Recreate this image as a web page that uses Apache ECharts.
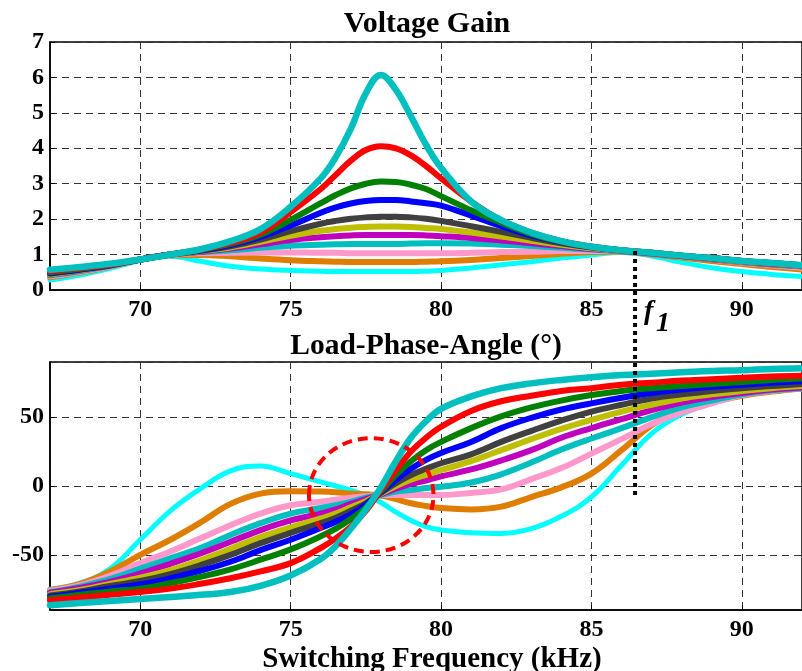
<!DOCTYPE html>
<html>
<head>
<meta charset="utf-8">
<script src="https://cdn.jsdelivr.net/npm/echarts@6/dist/echarts.min.js"></script>
<style>
  html, body { margin: 0; background: #fff; }
  #chart { width: 802px; height: 671px; }
</style>
</head>
<body>
<div id="chart"></div>
<script>
// ===== data =====
const freq = [67, 68, 69, 70, 71, 72, 73, 74, 75, 76, 76.5, 77, 77.5, 78, 78.5, 79, 79.5, 80, 81, 82, 83, 84, 85, 86, 87, 88, 89, 90, 91, 92];

// voltage gain
const gainTeal    = [0.57, 0.65, 0.74, 0.86, 1.0, 1.15, 1.38, 1.72, 2.35, 3.15, 3.75, 4.55, 5.55, 6.07, 5.65, 4.9, 4.1, 3.45, 2.5, 1.97, 1.62, 1.38, 1.22, 1.12, 1.05, 0.97, 0.9, 0.82, 0.76, 0.7];
const gainRed     = [0.53, 0.62, 0.72, 0.86, 1.0, 1.14, 1.33, 1.62, 2.2, 2.85, 3.25, 3.65, 3.95, 4.06, 4.0, 3.8, 3.5, 3.15, 2.5, 1.97, 1.62, 1.38, 1.23, 1.12, 1.05, 0.97, 0.9, 0.82, 0.75, 0.69];
const gainGreen   = [0.5, 0.6, 0.71, 0.86, 1.0, 1.13, 1.3, 1.56, 1.98, 2.45, 2.68, 2.87, 3.0, 3.06, 3.05, 2.97, 2.85, 2.65, 2.25, 1.9, 1.58, 1.36, 1.22, 1.12, 1.05, 0.97, 0.9, 0.82, 0.76, 0.7];
const gainBlue    = [0.48, 0.58, 0.7, 0.86, 1.0, 1.12, 1.27, 1.5, 1.82, 2.18, 2.33, 2.44, 2.51, 2.54, 2.54, 2.5, 2.45, 2.38, 2.1, 1.8, 1.54, 1.35, 1.21, 1.12, 1.05, 0.97, 0.9, 0.82, 0.76, 0.7];
const gainGray    = [0.46, 0.57, 0.7, 0.86, 1.0, 1.1, 1.23, 1.42, 1.66, 1.87, 1.95, 2.01, 2.05, 2.07, 2.07, 2.05, 2.01, 1.95, 1.8, 1.64, 1.47, 1.32, 1.2, 1.11, 1.04, 0.96, 0.89, 0.81, 0.75, 0.69];
const gainOlive   = [0.44, 0.56, 0.69, 0.86, 1.0, 1.09, 1.2, 1.36, 1.53, 1.67, 1.72, 1.76, 1.78, 1.79, 1.79, 1.78, 1.75, 1.72, 1.62, 1.51, 1.39, 1.28, 1.18, 1.1, 1.04, 0.96, 0.88, 0.8, 0.74, 0.68];
const gainMagenta = [0.43, 0.55, 0.69, 0.86, 1.0, 1.08, 1.17, 1.29, 1.41, 1.49, 1.52, 1.54, 1.55, 1.55, 1.55, 1.55, 1.54, 1.52, 1.47, 1.4, 1.32, 1.24, 1.16, 1.1, 1.03, 0.95, 0.87, 0.79, 0.73, 0.67];
const gainTeal2   = [0.41, 0.53, 0.68, 0.86, 1.0, 1.07, 1.12, 1.19, 1.25, 1.28, 1.29, 1.3, 1.3, 1.3, 1.3, 1.31, 1.32, 1.32, 1.31, 1.28, 1.24, 1.19, 1.14, 1.09, 1.03, 0.95, 0.87, 0.79, 0.72, 0.66];
const gainPink    = [0.39, 0.51, 0.67, 0.86, 0.99, 1.04, 1.05, 1.06, 1.06, 1.05, 1.05, 1.04, 1.04, 1.04, 1.04, 1.04, 1.04, 1.04, 1.05, 1.07, 1.08, 1.1, 1.1, 1.08, 1.02, 0.94, 0.86, 0.77, 0.7, 0.63];
const gainOrange  = [0.36, 0.49, 0.66, 0.86, 0.98, 0.99, 0.95, 0.89, 0.84, 0.81, 0.8, 0.79, 0.79, 0.79, 0.79, 0.79, 0.8, 0.81, 0.85, 0.9, 0.96, 1.02, 1.07, 1.08, 1.01, 0.92, 0.82, 0.73, 0.65, 0.58];
const gainCyan    = [0.28, 0.42, 0.61, 0.83, 0.95, 0.81, 0.67, 0.59, 0.55, 0.53, 0.52, 0.52, 0.52, 0.52, 0.52, 0.52, 0.53, 0.55, 0.62, 0.71, 0.8, 0.9, 0.99, 1.06, 0.96, 0.78, 0.63, 0.52, 0.44, 0.38];

// load phase angle (deg)
const phaseTeal    = [-86.5, -85, -83.5, -82, -80.5, -79, -77, -72.5, -65, -53, -43.5, -31, -17, -1, 18, 35, 47, 56, 65, 71, 74.5, 77, 79, 80.5, 81.5, 82.5, 83.5, 84, 85, 85.5];
const phaseRed     = [-83, -81, -79, -77, -74.5, -71, -67, -62, -56, -45, -38, -29.5, -18, -3, 11.5, 25, 35, 43, 54.5, 61.5, 65.5, 69, 71, 73.5, 75, 76.5, 77.5, 78.5, 79.5, 80];
const phaseGreen   = [-81.5, -79, -76.5, -74.5, -70.5, -66, -60.5, -53.5, -46, -36.5, -31, -24, -15.5, -4, 8, 18, 26, 32, 42, 50.5, 57, 62, 66, 69, 71, 72.5, 74, 75.5, 77, 78];
const phaseBlue    = [-80.5, -77.5, -74.5, -71.5, -67, -61.5, -55, -46.5, -39, -30.5, -26, -20.5, -13.5, -4.5, 4.5, 12.5, 19, 24, 32, 42, 49.5, 55.5, 60, 64, 67.5, 70, 72, 73.5, 75, 76];
const phaseGray    = [-79.5, -76.5, -72.5, -69, -64, -57.5, -50, -41.5, -34, -27, -23, -18, -12.5, -5, 2, 8, 12.5, 16.5, 23, 32, 40, 47.5, 54, 59, 63.5, 66.5, 69, 71, 72.5, 74];
const phaseOlive   = [-78.5, -75.5, -71, -66.5, -61, -54, -45.5, -37, -30, -23.5, -20, -15.5, -11, -5.5, 0, 4.5, 8, 11.5, 18, 26, 34, 41.5, 48, 54, 59, 63.5, 66.5, 69, 71, 72.5];
const phaseMagenta = [-77.5, -74, -69.5, -63.5, -56.5, -49, -40.5, -32, -25, -20, -17, -13, -9.5, -6, -2, 1.5, 4, 7, 12, 18.5, 26, 35, 42, 48.5, 55, 60.5, 64.5, 67.5, 70, 71.5];
const phaseTeal2   = [-77, -73, -67.5, -60, -52.5, -45, -35.5, -27, -20, -16, -14, -11.5, -8.5, -6.5, -4, -3, -1.5, -0.5, 2.5, 8.5, 17, 26.5, 34.5, 42, 50, 57, 62, 66.5, 69.5, 71];
const phasePink    = [-76, -72, -65, -56, -47.5, -38, -28.5, -20, -14, -11.5, -10, -8.5, -7.5, -6.5, -6.5, -6.5, -6.5, -6.5, -5, -2.5, 5, 13, 23.5, 34, 45, 53.5, 60, 66, 69, 71];
const phaseOrange  = [-75.5, -71, -62, -50, -39, -26.5, -13, -5.5, -3.8, -4, -4.5, -5.5, -6, -7, -9.5, -12.5, -14.5, -16, -17, -15, -8, -1, 9, 26, 44, 56, 61, 65.5, 68.5, 71];
const phaseCyan    = [-75, -70.5, -60, -39, -18, -2, 11, 14.5, 9, 3, 0, -3, -7, -12, -19, -25, -29.5, -32, -34, -34.5, -31, -22, -8, 15, 38, 52, 60, 66, 69.5, 72];

// annotations: dashed circle [f, deg, rx kHz, ry deg] and the f1 marker
const circleMark = [77.68, -6.55, 2.07, 41.3];
const f1Freq = 86.45;
const f1GainTop = 1.1;
const f1PhaseBottom = -8;

// ===== chart =====
const FONT = '"Liberation Serif", "Times New Roman", serif';

// drawn first -> last (last on top)
const curves = [
  { color: '#00FFFF', width: 5,   gain: gainCyan,    phase: phaseCyan },
  { color: '#DE7D00', width: 6,   gain: gainOrange,  phase: phaseOrange },
  { color: '#FF99CC', width: 6,   gain: gainPink,    phase: phasePink },
  { color: '#00BFBF', width: 6,   gain: gainTeal2,   phase: phaseTeal2 },
  { color: '#BF00BF', width: 6,   gain: gainMagenta, phase: phaseMagenta },
  { color: '#BFBF00', width: 6,   gain: gainOlive,   phase: phaseOlive },
  { color: '#404040', width: 6,   gain: gainGray,    phase: phaseGray },
  { color: '#0000FF', width: 6,   gain: gainBlue,    phase: phaseBlue },
  { color: '#008000', width: 6,   gain: gainGreen,   phase: phaseGreen },
  { color: '#FF0000', width: 6,   gain: gainRed,     phase: phaseRed },
  { color: '#00BFBF', width: 6.5, gain: gainTeal,    phase: phaseTeal }
];

const pairs = ys => freq.map((f, i) => [f, ys[i]]);

function lineSeries(c, ys, idx){
  return {
    type: 'line', xAxisIndex: idx, yAxisIndex: idx,
    data: pairs(ys), showSymbol: false, smooth: 0.4,
    lineStyle: { color: c.color, width: c.width, cap: 'round', join: 'round' },
    silent: true
  };
}

const gridDash = { color: '#333', width: 1, type: [7, 5] };
const labelStyle = { color: '#000', fontFamily: FONT, fontWeight: 'bold', fontSize: 24 };
const titleStyle = size => ({ fontFamily: FONT, fontWeight: 'bold', fontSize: size, color: '#000' });

function xAxisCfg(gridIndex){
  return {
    type: 'value', gridIndex, min: 67, max: 92, splitNumber: 5, minInterval: 5, maxInterval: 5,
    axisLine: { show: true, onZero: false, lineStyle: { color: '#000', width: 1.5 } },
    axisTick: { show: true, inside: true, length: 5, lineStyle: { color: '#000' } },
    axisLabel: Object.assign({ margin: 8, showMinLabel: false, showMaxLabel: false }, labelStyle),
    splitLine: { show: true, lineStyle: gridDash }
  };
}

const chart = echarts.init(document.getElementById('chart'), null, { renderer: 'canvas' });

const option = {
  animation: false,
  backgroundColor: '#fff',
  title: [
    { text: 'Voltage Gain', left: 422, top: 4, textAlign: 'center', textStyle: titleStyle(30) },
    { text: 'Load-Phase-Angle (°)', left: 421, top: 326, textAlign: 'center', textStyle: titleStyle(29.5) },
    { text: 'Switching Frequency (kHz)', left: 427, top: 640, textAlign: 'center', textStyle: titleStyle(29) }
  ],
  grid: [
    { left: 50, right: -3, top: 42, height: 248, show: true, borderColor: '#000', borderWidth: 1.5 },
    { left: 50, right: -3, top: 362, height: 248, show: true, borderColor: '#000', borderWidth: 1.5 }
  ],
  xAxis: [xAxisCfg(0), xAxisCfg(1)],
  yAxis: [
    {
      type: 'value', gridIndex: 0, min: 0, max: 7, interval: 1,
      axisLine: { show: true, lineStyle: { color: '#000', width: 1.5 } },
      axisTick: { show: true, inside: true, length: 5, lineStyle: { color: '#000' } },
      axisLabel: Object.assign({ margin: 6 }, labelStyle),
      splitLine: { show: true, lineStyle: gridDash }
    },
    {
      type: 'value', gridIndex: 1, min: -90, max: 90, splitNumber: 3, minInterval: 50, maxInterval: 50,
      axisLine: { show: true, lineStyle: { color: '#000', width: 1.5 } },
      axisTick: { show: true, inside: true, length: 5, lineStyle: { color: '#000' } },
      axisLabel: Object.assign({ margin: 6, showMinLabel: false, showMaxLabel: false }, labelStyle),
      splitLine: { show: true, lineStyle: gridDash }
    }
  ],
  series: [
    ...curves.map(c => lineSeries(c, c.gain, 0)),
    ...curves.map(c => lineSeries(c, c.phase, 1)),
    {
      type: 'custom', xAxisIndex: 1, yAxisIndex: 1, data: [circleMark], silent: true, z: 10,
      renderItem: (params, api) => {
        const c = api.coord([api.value(0), api.value(1)]);
        const s = api.size([api.value(2), api.value(3)]);
        return {
          type: 'ellipse',
          shape: { cx: c[0], cy: c[1], rx: s[0], ry: s[1] },
          style: { fill: 'none', stroke: '#FF0000', lineWidth: 4, lineDash: [10, 6] }
        };
      }
    }
  ]
};

chart.setOption(option);

// f1 marker across both panels
const pTop = chart.convertToPixel({ xAxisIndex: 0, yAxisIndex: 0 }, [f1Freq, f1GainTop]);
const pBot = chart.convertToPixel({ xAxisIndex: 1, yAxisIndex: 1 }, [f1Freq, f1PhaseBottom]);
chart.setOption({
  graphic: [
    { type: 'line', z: 100, shape: { x1: pTop[0], y1: pTop[1], x2: pBot[0], y2: pBot[1] },
      style: { stroke: '#000', lineWidth: 4, lineDash: [4, 4] } },
    { type: 'text', z: 100, x: pTop[0] + 9, y: 326,
      style: { text: 'f', font: 'italic bold 28px ' + FONT, fill: '#000', textVerticalAlign: 'bottom' } },
    { type: 'text', z: 100, x: pTop[0] + 21, y: 338,
      style: { text: '1', font: 'italic bold 28px ' + FONT, fill: '#000', textVerticalAlign: 'bottom' } }
  ]
});
</script>
</body>
</html>
